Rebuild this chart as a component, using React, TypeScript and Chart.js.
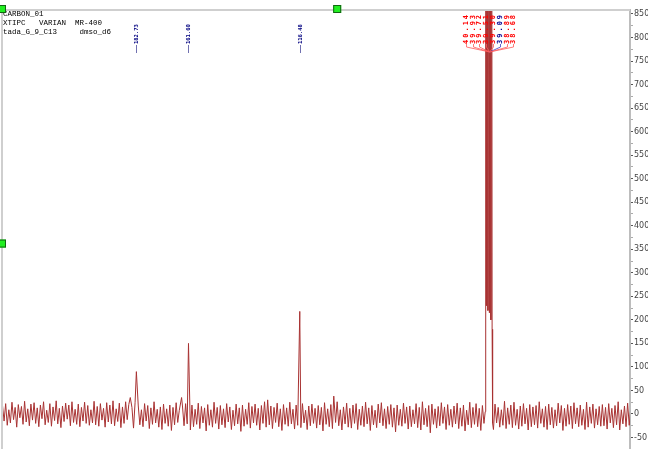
import React, { useEffect, useRef } from "react";
import { Chart, registerables } from "chart.js";

Chart.register(...registerables);

// ---- header text ----
const headerLines = ["CARBON_01", "XTIPC   VARIAN  MR-400", "tada_G_9_C13     dmso_d6"];

// ---- spectrum: baseline noise sampled on a regular ppm grid ----
const gridStartPpm = 237;
const gridStepPpm = 0.64;
const noise: number[] = [
  18, -15, 22, -24, 9, -19, 25, -12, 14, -28, 20, -8, 16, -22, 27, -17, 11, -25, 21, -13,
  24, -20, 13, -27, 19, -10, 26, -23, 8, -18, 22, -26, 15, -14, 28, -21, 12, -29, 17, -16,
  23, -11, 19, -25, 26, -18, 10, -22, 21, -27, 14, -15, 25, -20, 18, -24, 9, -19, 27, -23,
  16, -26, 22, -13, 12, -28, 24, -17, 19, -21, 28, -25, 11, -16, 23, -29, 15, -20, 26, -12,
  20, -24, 14, -30, 25, -18, 17, -23, 9, -27, 22, -15, 18, -31, 13, -22, 26, -19, 10, -28,
  15, -33, 21, -20, 11, -26, 19, -35, 14, -23, 24, -18, 8, -30, 17, -25, 22, -21, 12, -34,
  19, -27, 10, -22, 23, -31, 16, -19, 13, -36, 20, -24, 9, -28, 25, -20, 14, -32, 18, -23,
  11, -29, 22, -17, 15, -33, 8, -25, 21, -21, 13, -37, 19, -26, 10, -22, 24, -30, 16, -19,
  21, -24, 12, -34, 18, -20, 26, -28, 9, -23, 17, -31, 14, -18, 23, -27, 11, -35, 20, -22,
  13, -26, 25, -21, 10, -32, 19, -24, 15, -29, 22, -19, 8, -33, 17, -25, 21, -20, 12, -30,
  18, -23, 14, -36, 24, -22, 11, -27, 20, -31, 16, -18, 26, -25, 9, -34, 15, -21, 23, -28,
  12, -30, 19, -20, 22, -33, 10, -24, 17, -27, 25, -21, 13, -35, 18, -23, 8, -29, 21, -19,
  24, -25, 11, -31, 16, -22, 20, -28, 13, -38, 19, -24, 10, -26, 23, -20, 15, -32, 17, -27,
  9, -21, 22, -29, 14, -34, 26, -23, 12, -27, 18, -40, 21, -22, 11, -30, 16, -25, 24, -20,
  15, -33, 20, -24, 10, -28, 17, -21, 23, -31, 13, -26, 19, -36, 8, -23, 25, -29, 14, -22,
  22, -27, 12, -35, 18, -20, 24, -30, 11, -25, 16, -33, 21, -19, 14, -28, 9, -24, 27, -31,
  13, -22, 19, -29, 25, -24, 10, -32, 17, -26, 22, -21, 12, -34, 20, -27, 15, -23, 18, -30,
  26, -20, 11, -28, 16, -33, 21, -23, 14, -30, 9, -25, 23, -19, 18, -35, 12, -26, 20, -22,
  17, -31, 24, -21, 13, -27, 19, -24, 10, -33, 25, -28, 15, -20, 21, -30, 11, -23, 16, -26,
  20, -25, 14, -32, 22, -19, 12, -29, 18, -23, 26, -34, 9, -21, 17, -27, 23, -24, 13, -20,
];

// ---- single peaks ----
const peakPpm = [185.2, 182.73, 164.4, 161.6, 129.5, 116.48, 102.7];
const peakHeight = [35, 90, 35, 150, 30, 218, 38];

// ---- labelled peaks ----
const labelPpm = [182.73, 161.6, 116.48];
const labelText = ["182.73", "161.60", "116.48"];

// ---- solvent (DMSO-d6) multiplet ----
const dmsoPpm = [41.3, 41.1, 40.8, 40.5, 40.2, 39.9, 39.6, 39.3, 39.0, 38.8, 38.5, 38.3];
const dmsoHeight = [5, 2500, 230, 2500, 220, 2500, 215, 2500, 200, 2500, 180, -20];
const dmsoCenterPpm = 39.51;
const dmsoLabels = ["40.14", "39.93", "39.72", "39.51", "39.30", "39.09", "38.89", "38.68"];
const dmsoLabelColors = ["#ff0000", "#ff0000", "#ff0000", "#ff0000", "#ff0000", "#000090", "#ff0000", "#ff0000"];

// ---- axes ----
const xLeftPpm = 236.8;
const xRightPpm = -17.4;
const yMin = -74.4;
const yMax = 858.5;
const yTickFirst = -50;
const yTickLast = 850;
const yTickMinorStep = 25;
const yTickLabelStep = 50;

function buildPoints() {
  const pts: { x: number; y: number }[] = [];
  noise.forEach((v, i) => {
    const x = gridStartPpm - i * gridStepPpm;
    const nearPeak = peakPpm.some((p) => Math.abs(p - x) < 0.3);
    const inDmso = x < dmsoPpm[0] + 0.2 && x > dmsoPpm[dmsoPpm.length - 1] - 0.2;
    if (!nearPeak && !inDmso) pts.push({ x, y: v });
  });
  peakPpm.forEach((p, i) => pts.push({ x: p, y: peakHeight[i] }));
  dmsoPpm.forEach((p, i) => pts.push({ x: p, y: dmsoHeight[i] }));
  pts.sort((a, b) => b.x - a.x);
  return pts;
}

const decorPlugin = {
  id: "decor",
  afterDatasetsDraw(chart: any) {
    const { ctx, chartArea, scales } = chart;
    const xs = scales.x;
    const top = chartArea.top;
    ctx.save();
    // frame lines
    ctx.strokeStyle = "#cfcfcf";
    ctx.lineWidth = 2;
    ctx.beginPath();
    ctx.moveTo(0, top);
    ctx.lineTo(chartArea.right, top);
    ctx.moveTo(chartArea.left - 1, top);
    ctx.lineTo(chartArea.left - 1, chart.height);
    ctx.stroke();

    // header text
    ctx.fillStyle = "#000";
    ctx.font = "7.5px 'Liberation Mono'";
    ctx.textBaseline = "middle";
    ctx.textAlign = "left";
    headerLines.forEach((t, i) => ctx.fillText(t, chartArea.left, top + 4 + i * 9));

    // peak labels
    labelPpm.forEach((p, i) => {
      const px = Math.round(xs.getPixelForValue(p)) + 0.5;
      ctx.save();
      ctx.translate(px, top + 35);
      ctx.rotate(-Math.PI / 2);
      ctx.fillStyle = "#000080";
      ctx.font = "bold 5.5px 'DejaVu Sans Mono'";
      ctx.textAlign = "left";
      ctx.textBaseline = "middle";
      ctx.fillText(labelText[i], 1, 0);
      ctx.restore();
      ctx.strokeStyle = "#7070b0";
      ctx.lineWidth = 1;
      ctx.beginPath();
      ctx.moveTo(px, top + 35);
      ctx.lineTo(px, top + 43);
      ctx.stroke();
    });

    // solvent labels
    const cx = xs.getPixelForValue(dmsoCenterPpm);
    const n = dmsoLabels.length;
    dmsoLabels.forEach((t, i) => {
      const lx = Math.round(cx + (i - (n - 1) / 2) * 6.8) + 0.5;
      const col = dmsoLabelColors[i];
      ctx.save();
      ctx.translate(lx, top + 34);
      ctx.rotate(-Math.PI / 2);
      ctx.fillStyle = col;
      ctx.font = "bold 7px 'DejaVu Sans Mono'";
      (ctx as any).letterSpacing = "2px";
      ctx.textAlign = "left";
      ctx.textBaseline = "middle";
      ctx.fillText(t, 0, 0);
      ctx.restore();
      ctx.strokeStyle = col === "#ff0000" ? "rgba(255,90,90,0.8)" : "rgba(60,60,200,0.8)";
      ctx.lineWidth = 1;
      ctx.beginPath();
      ctx.moveTo(lx, top + 34);
      ctx.lineTo(lx, top + 37);
      ctx.lineTo(cx, top + 42);
      ctx.stroke();
    });

    // green handles
    const handles = [
      [chartArea.left - 1, top - 1],
      [chartArea.left + (chartArea.right - chartArea.left) * 0.533, top - 1],
      [chartArea.left - 1, top + (chartArea.bottom - top) * 0.532],
    ];
    handles.forEach(([hx, hy]) => {
      ctx.fillStyle = "#22ee22";
      ctx.fillRect(hx - 4, hy - 4, 8, 8);
      ctx.strokeStyle = "#116611";
      ctx.lineWidth = 1;
      ctx.strokeRect(hx - 3.5, hy - 3.5, 7, 7);
    });
    ctx.restore();
  },
};

export default function App() {
  const ref = useRef<HTMLCanvasElement>(null);
  useEffect(() => {
    if (!ref.current) return;
    const chart = new Chart(ref.current, {
      type: "line",
      data: {
        datasets: [
          {
            data: buildPoints(),
            borderColor: "#a83232",
            borderWidth: 1,
            pointRadius: 0,
            tension: 0,
            fill: false,
          },
        ],
      },
      options: {
        responsive: false,
        animation: false,
        parsing: false as any,
        layout: { padding: { top: 10, left: 3, right: 0, bottom: 0 } },
        plugins: { legend: { display: false }, tooltip: { enabled: false } },
        scales: {
          x: {
            type: "linear",
            reverse: true,
            min: xRightPpm,
            max: xLeftPpm,
            display: false,
          },
          y: {
            type: "linear",
            position: "right",
            min: yMin,
            max: yMax,
            afterBuildTicks: (scale: any) => {
              const t: { value: number }[] = [];
              for (let v = yTickFirst; v <= yTickLast; v += yTickMinorStep) t.push({ value: v });
              scale.ticks = t;
            },
            afterFit: (scale: any) => {
              scale.paddingTop = 0;
              scale.paddingBottom = 0;
              scale.width = 18;
            },
            ticks: {
              autoSkip: false,
              padding: 1,
              color: "#444",
              font: { size: 8, family: "'DejaVu Sans'" },
              callback: (v: any) => (Number(v) % yTickLabelStep === 0 ? String(v) : ""),
            },
            grid: {
              drawOnChartArea: false,
              drawTicks: true,
              tickLength: 3,
              tickColor: (c: any) => (c.tick && c.tick.value % yTickLabelStep === 0 ? "#555" : "#aaa"),
            },
            border: { display: true, color: "#bdbdbd", width: 2 },
          },
        },
      },
      plugins: [decorPlugin],
    });
    return () => chart.destroy();
  }, []);
  return (
    <div style={{ position: "fixed", left: 0, top: 0, width: 648, height: 449, background: "#fff" }}>
      <canvas ref={ref} width={648} height={449} />
    </div>
  );
}
